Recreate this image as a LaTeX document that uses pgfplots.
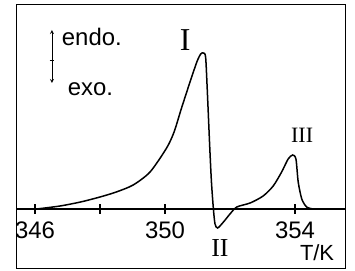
\documentclass[border=0pt]{standalone}
\usepackage{pgfplots}
\pgfplotsset{compat=1.18}
\usepackage{fontspec}
\setmainfont{Liberation Sans}
\newfontfamily\serif{Liberation Serif}
\begin{document}
\begin{tikzpicture}[x=1bp,y=1bp]
\path[use as bounding box] (0,0) rectangle (355,271);
\begin{axis}[
  at={(16bp,3bp)}, anchor=south west, scale only axis,
  width=329bp, height=263bp,
  xmin=345.415, xmax=355.54, ymin=-59, ymax=204,
  axis x line=middle, axis y line=none,
  axis line style={-, line width=1.1bp, black},
  xtick={346,348,350,354}, xticklabels={346,,350,354},
  major tick length=10bp, tick align=center,
  xtick style={line width=1.3bp, black},
  xticklabel style={font=\fontsize{24}{24}\selectfont, yshift=-4bp},
  clip=false,
]
\draw[line width=1bp] (rel axis cs:0,0) rectangle (rel axis cs:1,1);
\addplot[black, line width=1.5bp, smooth, tension=0.45] coordinates {
(346.05,0) (346.77,3) (347.4,7) (348.0,12) (348.5,17) (349.02,24) (349.54,37)
(350.05,61) (350.28,77) (350.5,100) (350.75,125) (350.98,147) (351.10,155)
(351.18,156) (351.25,152) (351.30,120) (351.38,60) (351.43,27) (351.49,0)
(351.54,-15) (351.62,-19) (351.8,-13) (352.0,-5) (352.21,2) (352.62,6)
(353.02,13) (353.33,23) (353.59,37) (353.79,50) (353.93,54) (354.03,50)
(354.1,27) (354.21,10) (354.36,2) (354.56,0)
};
\draw[<->, >=stealth, line width=0.8bp] (axis cs:346.52,179) -- (axis cs:346.52,126);
\draw[line width=0.8bp] (axis cs:346.45,149) -- (axis cs:346.59,149);
\node[anchor=west, font=\fontsize{24}{24}\selectfont] at (axis cs:346.72,172) {endo.};
\node[anchor=west, font=\fontsize{24}{24}\selectfont] at (axis cs:346.9,120) {exo.};
\node[font=\serif\fontsize{32}{32}\selectfont] at (axis cs:350.62,169) {I};
\node[font=\serif\fontsize{26}{26}\selectfont] at (axis cs:351.69,-39) {II};
\node[font=\serif\fontsize{22}{22}\selectfont] at (axis cs:354.22,74) {III};
\node[font=\fontsize{22}{22}\selectfont] at (axis cs:354.68,-44) {T/K};
\end{axis}
\end{tikzpicture}
\end{document}
